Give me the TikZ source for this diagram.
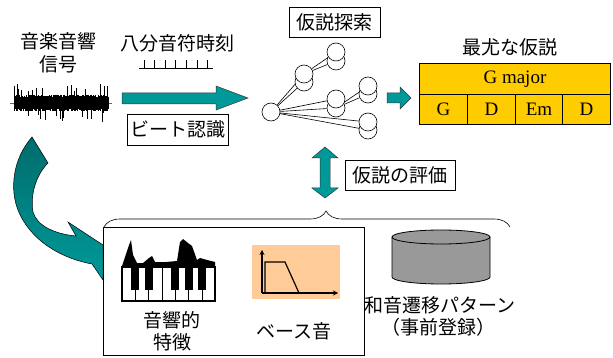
\documentclass[tikz,border=0pt]{standalone}
\usepackage{fontspec}
\setmainfont{Liberation Serif}
\newfontfamily\jpfont{Noto Sans CJK JP}
\usepackage{tikz}
\usetikzlibrary{arrows.meta,backgrounds,decorations.pathreplacing}

\definecolor{tealarrow}{RGB}{0,153,153}
\definecolor{tealdark}{RGB}{0,108,108}
\definecolor{chordgold}{RGB}{255,204,0}
\definecolor{bassbg}{RGB}{255,204,153}
\definecolor{dbgray}{RGB}{153,153,153}

\tikzset{
	jp/.style={font=\jpfont\fontsize{19}{23}\selectfont, inner sep=0pt},
	labelbox/.style={jp, draw, line width=0.8pt, fill=white, minimum height=30pt},
	hyp/.style={circle, draw, line width=0.6pt, fill=white, minimum size=18pt, inner sep=0pt},
	chordcell/.style={draw, line width=0.9pt, fill=chordgold, inner sep=0pt, anchor=north west, font=\fontsize{19}{23}\selectfont},
	blockarrow/.style={draw=black!80, line width=0.5pt, fill=tealarrow},
	wave/.style={line width=0.7pt},
}

\begin{document}
\begin{tikzpicture}[x=1pt, y=-1pt]
		%%%%% START %%%%%
		\useasboundingbox (0,0) rectangle (613,358);
		
		% input signal
		\node[jp] (sig1) at (58,41) {音楽音響};
		\node[jp] (sig2) at (58,64) {信号};
		\draw[black!60, line width=0.4pt] (10,103) -- (112,103);
		\pgfmathsetseed{7}
		\foreach \i in {0,...,188}{
			\pgfmathsetmacro\wx{14+0.5*\i}
			\pgfmathsetmacro\wu{5.5+3*rnd+(rnd>0.92)*(5+8*rnd)}
			\pgfmathsetmacro\wd{5.5+3*rnd+(rnd>0.92)*(4+8*rnd)}
			\draw[wave] (\wx,103-\wu) -- (\wx,103+\wd);
		}
		
		% eighth-note grid
		\node[jp] (grid) at (177,43) {八分音符時刻};
		\draw[line width=0.8pt] (139,68) -- (213,68);
		\foreach \k in {0,...,6}
			\draw[line width=0.8pt] (144+10.6*\k,68) -- (144+10.6*\k,60);
		
		\draw[blockarrow] (122,93) -- (216,93) -- (216,86) -- (248,98) -- (216,110) -- (216,104) -- (122,104) -- cycle;
		\node[labelbox, minimum width=101pt, minimum height=31pt] (beat) at (177.5,129.5) {ビート認識};
		
		% hypothesis search tree
		\node[labelbox, minimum width=91pt] (search) at (334.5,22) {仮説探索};
		\node[hyp] (root) at (271,112) {};
		\node[hyp] (s1b) at (304,82) {};
		\node[hyp] (s1t) at (304,74) {};
		\node[hyp] (s2b) at (336,61) {};
		\node[hyp] (s2t) at (336,52) {};
		\node[hyp] (s3b) at (336,108) {};
		\node[hyp] (s3t) at (336,99) {};
		\node[hyp] (s4b) at (368,94) {};
		\node[hyp] (s4t) at (368,86) {};
		\node[hyp] (s5b) at (368,130) {};
		\node[hyp] (s5t) at (368,122) {};
		\begin{scope}[on background layer]
			\foreach \s in {s1t,s1b,s3t,s3b,s5t,s5b}
				\draw[line width=0.6pt] (root) -- (\s);
			\draw[line width=0.6pt] (s1t) -- (s2t) (s1t) -- (s2b);
			\draw[line width=0.6pt] (s3b) -- (s4t) (s3b) -- (s4b);
		\end{scope}
		
		\draw[blockarrow] (387,93) -- (400,93) -- (400,87) -- (411,98) -- (400,109) -- (400,103) -- (387,103) -- cycle;
		
		% best hypothesis
		\node[jp] (best) at (510,47) {最尤な仮説};
		\node[chordcell, minimum width=191pt, minimum height=31pt] (key) at (419,63) {G major};
		\node[chordcell, minimum width=48pt, minimum height=30pt] (c1) at (419,94) {G};
		\node[chordcell, minimum width=48pt, minimum height=30pt] (c2) at (467,94) {D};
		\node[chordcell, minimum width=47pt, minimum height=30pt] (c3) at (515,94) {Em};
		\node[chordcell, minimum width=48pt, minimum height=30pt] (c4) at (562,94) {D};
		
		% evaluation
		\draw[blockarrow] (320,158) -- (312,158) -- (325,147) -- (338,158) -- (330,158) -- (330,188) -- (338,188) -- (325,198) -- (312,188) -- (320,188) -- cycle;
		\node[labelbox, minimum width=110pt] (eval) at (400,175) {仮説の評価};
		\draw[line width=0.6pt, decorate, decoration={brace, amplitude=16pt, aspect=0.547}] (104,227) -- (510,227);
		
		% curved arrow into the feature box
		\draw[draw=black, line width=0.5pt, top color=tealdark, bottom color=tealarrow]
			(32,137) -- (48,163) .. controls (36,175) and (30,195) .. (33,212)
			.. controls (37,226) and (55,234) .. (76,236) -- (68,222) -- (103,245) -- (103,280) -- (92,264)
			.. controls (60,258) and (30,240) .. (18,210) .. controls (10,190) and (12,160) .. (32,137) -- cycle;
		
		\draw[line width=1pt, fill=white] (103,228) rectangle (364,355);
		
		% spectrum over the keyboard
		\fill (122,266) -- (129,245) -- (131,240) -- (133,255) -- (137,263) -- (143,263) -- (149,258) -- (152,256) -- (155,262)
			-- (166,262) -- (177,261) -- (180,242) -- (183,239) -- (188,243) -- (192,246) -- (197,260) -- (200,258)
			-- (207,260) -- (215,262) -- (215,266) -- cycle;
		\draw[line width=1.2pt, fill=white] (122,267) rectangle (215,301);
		\foreach \x in {135.3,148.6,162,175.3,188.6,202}
			\draw[line width=0.8pt] (\x,267) -- (\x,301);
		\foreach \x in {135.3,148.6,175.3,188.6,202}
			\fill (\x-4,267) rectangle (\x+4,290);
		\node[jp] (feat1) at (172,320) {音響的};
		\node[jp] (feat2) at (172,342) {特徴};
		
		% bass icon
		\fill[bassbg] (252,245) rectangle (340,299);
		\draw[line width=1.2pt, -{Stealth[length=5pt,width=5pt]}] (262,293) -- (262,250);
		\draw[line width=1.2pt, -{Stealth[length=5pt,width=5pt]}] (262,293) -- (338,293);
		\draw[line width=1.2pt] (265,293) -- (265,262) -- (285,262) -- (299,293);
		\node[jp] (bass) at (294,331) {ベース音};
		
		% chord transition database
		\draw[line width=0.8pt, fill=dbgray] (392,237) -- (392,277) arc[start angle=180, end angle=0, x radius=49, y radius=7] -- (490,237);
		\draw[line width=0.8pt, fill=dbgray] (441,237) ellipse [x radius=49, y radius=7];
		\node[jp] (trans1) at (440,305) {和音遷移パターン};
		\node[jp] (trans2) at (438,327) {（事前登録）};
		
		%%%%% END %%%%%
	\end{tikzpicture}
\end{document}
